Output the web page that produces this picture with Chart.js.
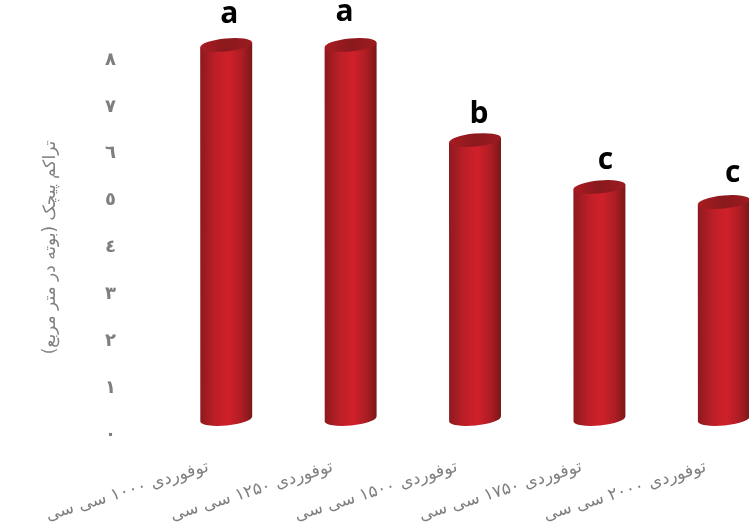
<!DOCTYPE html>
<html>
<head>
<meta charset="utf-8">
<title>تراکم پیچک</title>
<script src="https://cdn.jsdelivr.net/npm/chart.js@4"></script>
<style>
  html, body { margin: 0; background: #fff; overflow: hidden; }
  #wrap { width: 749px; height: 531px; overflow: hidden; }
</style>
</head>
<body>
<div id="wrap"><canvas id="myChart" width="800" height="531"></canvas></div>
<script>
const categories = ['توفوردی ۱۰۰۰ سی سی', 'توفوردی ۱۲۵۰ سی سی', 'توفوردی ۱۵۰۰ سی سی', 'توفوردی ۱۷۵۰ سی سی', 'توفوردی ۲۰۰۰ سی سی'];
const density = [7.98, 7.98, 5.95, 4.95, 4.63];
const groupLetters = ['a', 'a', 'b', 'c', 'c'];
const yTickLabels = ['٠', '١', '٢', '٣', '٤', '٥', '٦', '٧', '٨'];
const yTitle = 'تراکم پیچک (بوته در متر مربع)';

const arabicFont = '"DejaVu Sans", sans-serif';
const gray = '#7f7f7f';
const depth = 16;   // the cylinders sit this far above the axis zero
const tilt = -0.095;
const letterNudge = [[3, -30], [-6, -32], [4, -26], [6, -27], [9, -29]];

// side wall shading runs across the width of each cylinder
function wallGradient(ctx, left, right) {
  const g = ctx.createLinearGradient(left, 0, right, 0);
  g.addColorStop(0, '#8c1a1f');
  g.addColorStop(0.3, '#bd1f27');
  g.addColorStop(0.55, '#d0202a');
  g.addColorStop(0.8, '#ad1d24');
  g.addColorStop(1, '#7a1719');
  return g;
}

const cylinders = {
  id: 'cylinders',
  afterDatasetsDraw(chart) {
    const ctx = chart.ctx;
    chart.getDatasetMeta(0).data.forEach((bar, i) => {
      const rx = bar.width / 2;
      const ry = 6.5;
      const topY = bar.y - depth;
      const baseY = bar.base - depth;
      const dy = Math.sin(tilt) * rx;

      ctx.save();
      ctx.beginPath();
      ctx.moveTo(bar.x - rx, topY - dy);
      ctx.lineTo(bar.x + rx, topY + dy);
      ctx.lineTo(bar.x + rx, baseY + dy);
      ctx.ellipse(bar.x, baseY, rx, ry, tilt, 0, Math.PI);
      ctx.closePath();
      ctx.fillStyle = wallGradient(ctx, bar.x - rx, bar.x + rx);
      ctx.fill();

      ctx.beginPath();
      ctx.ellipse(bar.x, topY, rx, ry, tilt, 0, Math.PI * 2);
      const lid = ctx.createLinearGradient(bar.x - rx, 0, bar.x + rx, 0);
      lid.addColorStop(0, '#a81c22');
      lid.addColorStop(0.5, '#8a191d');
      lid.addColorStop(1, '#9c1b20');
      ctx.fillStyle = lid;
      ctx.fill();

      ctx.fillStyle = '#000';
      ctx.font = 'bold 30px "Open Sans", sans-serif';
      ctx.textAlign = 'center';
      ctx.textBaseline = 'middle';
      ctx.fillText(groupLetters[i], bar.x + letterNudge[i][0], topY + letterNudge[i][1]);
      ctx.restore();
    });
  }
};

const ctx = document.getElementById('myChart').getContext('2d');
new Chart(ctx, {
  type: 'bar',
  data: {
    labels: categories,
    datasets: [{
      label: yTitle,
      data: density,
      backgroundColor: 'rgba(0,0,0,0)',
      barPercentage: 0.418,
      categoryPercentage: 1
    }]
  },
  options: {
    responsive: false,
    animation: false,
    layout: { padding: { top: 60, right: 14, left: 0, bottom: 0 } },
    plugins: { legend: { display: false }, tooltip: { enabled: false } },
    scales: {
      x: {
        grid: { display: false, drawTicks: false },
        border: { display: false },
        afterFit: s => { s.height = 96; },
        ticks: {
          autoSkip: false,
          minRotation: 17,
          maxRotation: 17,
          labelOffset: -18,
          padding: 22,
          color: gray,
          font: { family: arabicFont, size: 17 }
        }
      },
      y: {
        min: 0,
        max: 8,
        grid: { display: false, drawTicks: false },
        border: { display: false },
        afterFit: s => { s.width = 164; },
        title: {
          display: true,
          text: yTitle,
          color: gray,
          padding: { top: 40, bottom: 0 },
          font: { family: arabicFont, size: 17, weight: 'normal' }
        },
        ticks: {
          stepSize: 1,
          padding: 48,
          color: gray,
          font: { family: arabicFont, size: 18, weight: 'bold' },
          callback: (v, i) => yTickLabels[i]
        }
      }
    }
  },
  plugins: [cylinders]
});
</script>
</body>
</html>
